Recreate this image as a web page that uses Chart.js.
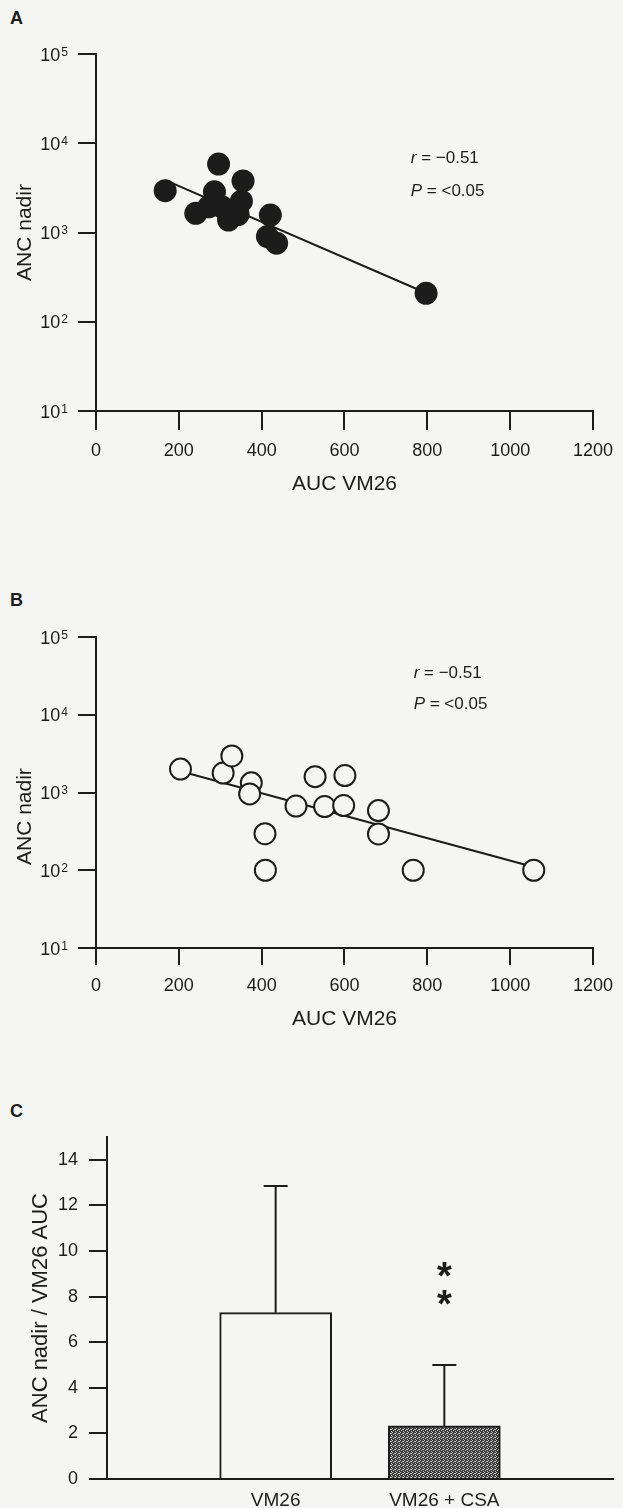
<!DOCTYPE html>
<html>
<head>
<meta charset="utf-8">
<script src="https://cdn.jsdelivr.net/npm/chart.js@4"></script>
<style>
html, body { margin: 0; padding: 0; background: #f5f5f3; }
#page { position: relative; width: 623px; height: 1508px; overflow: hidden; font-family: "Liberation Sans", Arial, sans-serif; }
canvas { position: absolute; left: 0; }
.tag { position: absolute; left: 10px; font-weight: bold; font-size: 18px; line-height: 20px; color: #1c1c1c; }
</style>
</head>
<body>
<div id="page">
  <div class="tag" style="top:8px">A</div>
  <div class="tag" style="top:590px">B</div>
  <div class="tag" style="top:1101px">C</div>
  <canvas id="panel-a" width="623" height="500" style="top:0"></canvas>
  <canvas id="panel-b" width="623" height="480" style="top:560px"></canvas>
  <canvas id="panel-c" width="623" height="428" style="top:1080px"></canvas>
</div>
<script>
// ───── ANC nadir vs VM26 exposure, three stacked panels ─────────────────────
const INK = '#1c1c1c';
const PAPER = '#f5f5f3';
const FONT = '"Liberation Sans", Arial, Helvetica, sans-serif';

// shared axes
const aucTicks = [0, 200, 400, 600, 800, 1000, 1200];
const decadeTicks = [10, 100, 1000, 10000, 100000];
const ratioTicks = [0, 2, 4, 6, 8, 10, 12, 14];

// Panel A: VM26 alone (AUC, ANC nadir)
const aucA = [167, 296, 355, 286, 241, 272, 304, 320, 351, 343, 421, 414, 436, 797];
const ancA = [2940, 5850, 3780, 2860, 1640, 1940, 1940, 1380, 2240, 1590, 1570, 900, 760, 208];
const fitAucA = [167, 797];
const fitAncA = [3870, 210];

// Panel B: VM26 + CSA
const aucB = [204, 307, 328, 375, 371, 408, 409, 483, 529, 552, 601, 598, 682, 682, 766, 1057];
const ancB = [2000, 1780, 2950, 1330, 960, 295, 100, 670, 1600, 660, 1650, 680, 585, 293, 100, 100];
const fitAucB = [204, 1057];
const fitAncB = [1880, 110];

// Panel C: ANC nadir / VM26 AUC (mean and upper SD)
const groupLabels = ['', 'VM26', 'VM26 + CSA', ''];
const ratioMean = [null, 7.3, 2.33, null];
const ratioUpper = [null, 12.85, 5.0, null];
const starLevels = [9.2, 7.95];

// Text laid out in data space; runs can mix italic and upright pieces.
const notesPlugin = {
  id: 'notes',
  afterDatasetsDraw(chart, args, opts) {
    const { ctx, scales } = chart;
    (opts.items || []).forEach((n) => {
      const px = n.px != null ? n.px : scales.x.getPixelForValue(n.x);
      const py = scales.y.getPixelForValue(n.y);
      ctx.save();
      ctx.translate(px, py);
      if (n.rotate) ctx.rotate(n.rotate);
      ctx.fillStyle = INK;
      ctx.textBaseline = 'alphabetic';
      const runs = n.parts.map(([text, style]) => ({ text, font: `${style || ''} ${n.size}px ${FONT}` }));
      let width = 0;
      runs.forEach((r) => { ctx.font = r.font; r.w = ctx.measureText(r.text).width; width += r.w; });
      ctx.font = runs[0].font;
      const m = ctx.measureText(n.ref || '0');
      const base = (m.actualBoundingBoxAscent - m.actualBoundingBoxDescent) / 2;
      let x = n.align === 'center' ? -width / 2 : 0;
      runs.forEach((r) => { ctx.font = r.font; ctx.fillText(r.text, x, base); x += r.w; });
      ctx.restore();
    });
  },
};

// "10" with a raised exponent for each decade tick on the log axis.
const powerLabelsPlugin = {
  id: 'powerLabels',
  afterDraw(chart) {
    const { ctx, chartArea } = chart;
    const y = chart.scales.y;
    const right = chartArea.left - 18 - 10;
    ctx.save();
    ctx.fillStyle = INK;
    ctx.textBaseline = 'alphabetic';
    ctx.textAlign = 'right';
    y.ticks.forEach((t) => {
      const py = y.getPixelForValue(t.value);
      const exp = String(Math.round(Math.log10(t.value)));
      ctx.font = `12px ${FONT}`;
      const ew = ctx.measureText(exp).width;
      ctx.font = `18px ${FONT}`;
      const cap = ctx.measureText('10').actualBoundingBoxAscent;
      const base = py + cap / 2;
      ctx.fillText('10', right - ew - 1, base);
      ctx.font = `12px ${FONT}`;
      ctx.fillText(exp, right, base - cap + 8);
    });
    ctx.restore();
  },
};

const errorBarPlugin = {
  id: 'errorBars',
  afterDatasetsDraw(chart) {
    const { ctx } = chart;
    const meta = chart.getDatasetMeta(0);
    const y = chart.scales.y;
    ctx.save();
    ctx.strokeStyle = INK;
    ctx.lineWidth = 2;
    ratioUpper.forEach((top, i) => {
      if (top == null) return;
      const bar = meta.data[i];
      const yTop = y.getPixelForValue(top);
      ctx.beginPath();
      ctx.moveTo(bar.x, bar.y);
      ctx.lineTo(bar.x, yTop);
      ctx.moveTo(bar.x - 12, yTop);
      ctx.lineTo(bar.x + 12, yTop);
      ctx.stroke();
    });
    ctx.restore();
  },
};

function stipple() {
  const c = document.createElement('canvas');
  c.width = 4; c.height = 4;
  const g = c.getContext('2d');
  g.fillStyle = '#3a3a3a';
  g.fillRect(0, 0, 4, 4);
  g.fillStyle = '#c4c4c4';
  [[0, 0], [2, 1], [1, 2], [3, 3], [3, 1]].forEach(([x, y]) => g.fillRect(x, y, 1, 1));
  return g.createPattern(c, 'repeat');
}

function tickFont(size) {
  return { family: FONT, size };
}

function scatterPanel(id, auc, anc, fitAuc, fitAnc, cfg) {
  const points = auc.map((x, i) => ({ x, y: anc[i] }));
  const fit = fitAuc.map((x, i) => ({ x, y: fitAnc[i] }));
  return new Chart(document.getElementById(id), {
    type: 'scatter',
    data: {
      datasets: [
        {
          data: points,
          order: 1,
          pointRadius: cfg.radius,
          pointHoverRadius: cfg.radius,
          backgroundColor: cfg.fill,
          borderColor: INK,
          borderWidth: cfg.ring,
        },
        {
          type: 'line',
          data: fit,
          order: 2,
          borderColor: INK,
          borderWidth: 2,
          pointRadius: 0,
          fill: false,
        },
      ],
    },
    options: {
      responsive: false,
      animation: false,
      events: [],
      layout: { padding: cfg.padding },
      plugins: {
        legend: { display: false },
        tooltip: { enabled: false },
        notes: { items: cfg.notes },
      },
      scales: {
        x: {
          type: 'linear',
          min: 0,
          max: 1200,
          afterBuildTicks: (s) => { s.ticks = aucTicks.map((v) => ({ value: v })); },
          afterFit: (s) => { s.height = cfg.xHeight; },
          border: { display: true, color: INK, width: 2 },
          grid: { drawOnChartArea: false, drawTicks: true, tickLength: cfg.xTick, color: INK, lineWidth: 2 },
          ticks: { color: INK, font: tickFont(18), padding: 10, maxRotation: 0, callback: (v) => String(v) },
          title: { display: true, text: 'AUC VM26', color: INK, font: tickFont(21), padding: 0 },
        },
        y: {
          type: 'logarithmic',
          min: 10,
          max: 100000,
          afterBuildTicks: (s) => { s.ticks = decadeTicks.map((v) => ({ value: v })); },
          afterFit: (s) => { s.width = 84; },
          border: { display: true, color: INK, width: 2 },
          grid: { drawOnChartArea: false, drawTicks: true, tickLength: 18, color: INK, lineWidth: 2 },
          ticks: { display: false },
        },
      },
    },
    plugins: [notesPlugin, powerLabelsPlugin],
  });
}

scatterPanel('panel-a', aucA, ancA, fitAucA, fitAncA, {
  radius: 11.5,
  fill: INK,
  ring: 0,
  xTick: 19,
  xHeight: 86,
  padding: { left: 12, top: 54, right: 21, bottom: 3 },
  notes: [
    { x: 760, y: 7000, size: 17, parts: [['r', 'italic'], [' = −0.51']] },
    { x: 760, y: 3000, size: 17, parts: [['P', 'italic'], [' = <0.05']] },
    { px: 24, y: 1000, size: 21, align: 'center', rotate: -Math.PI / 2, ref: 'A', parts: [['ANC nadir']] },
  ],
});

scatterPanel('panel-b', aucB, ancB, fitAucB, fitAncB, {
  radius: 10.5,
  fill: PAPER,
  ring: 2,
  xTick: 17,
  xHeight: 84,
  padding: { left: 12, top: 77, right: 21, bottom: 8 },
  notes: [
    { x: 767, y: 35800, size: 17, parts: [['r', 'italic'], [' = −0.51']] },
    { x: 767, y: 14200, size: 17, parts: [['P', 'italic'], [' = <0.05']] },
    { px: 24, y: 490, size: 21, align: 'center', rotate: -Math.PI / 2, ref: 'A', parts: [['ANC nadir']] },
  ],
});

new Chart(document.getElementById('panel-c'), {
  type: 'bar',
  data: {
    labels: groupLabels,
    datasets: [{
      data: ratioMean,
      backgroundColor: [PAPER, PAPER, stipple(), PAPER],
      borderColor: INK,
      borderWidth: 2,
      borderSkipped: 'bottom',
      barThickness: 112,
    }],
  },
  options: {
    responsive: false,
    animation: false,
    events: [],
    layout: { padding: { left: 28, top: 57, right: 7, bottom: 0 } },
    plugins: {
      legend: { display: false },
      tooltip: { enabled: false },
      notes: {
        items: starLevels.map((v) => ({ x: 2, y: v, size: 38, align: 'center', ref: '*', parts: [['*', 'bold']] })),
      },
    },
    scales: {
      x: {
        type: 'category',
        offset: false,
        afterFit: (s) => { s.height = 29; },
        border: { display: true, color: INK, width: 2 },
        grid: { drawOnChartArea: false, drawTicks: false },
        ticks: { color: INK, font: tickFont(19), padding: 10, autoSkip: false, maxRotation: 0 },
      },
      y: {
        min: 0,
        max: 15,
        afterBuildTicks: (s) => { s.ticks = ratioTicks.map((v) => ({ value: v })); },
        afterFit: (s) => { s.width = 79; },
        border: { display: true, color: INK, width: 2 },
        grid: { drawOnChartArea: false, drawTicks: true, tickLength: 18, color: INK, lineWidth: 2 },
        ticks: { color: INK, font: tickFont(18), padding: 11 },
        title: { display: true, text: 'ANC nadir / VM26 AUC', color: INK, font: tickFont(22), padding: 0 },
      },
    },
  },
  plugins: [errorBarPlugin, notesPlugin],
});
</script>
</body>
</html>
